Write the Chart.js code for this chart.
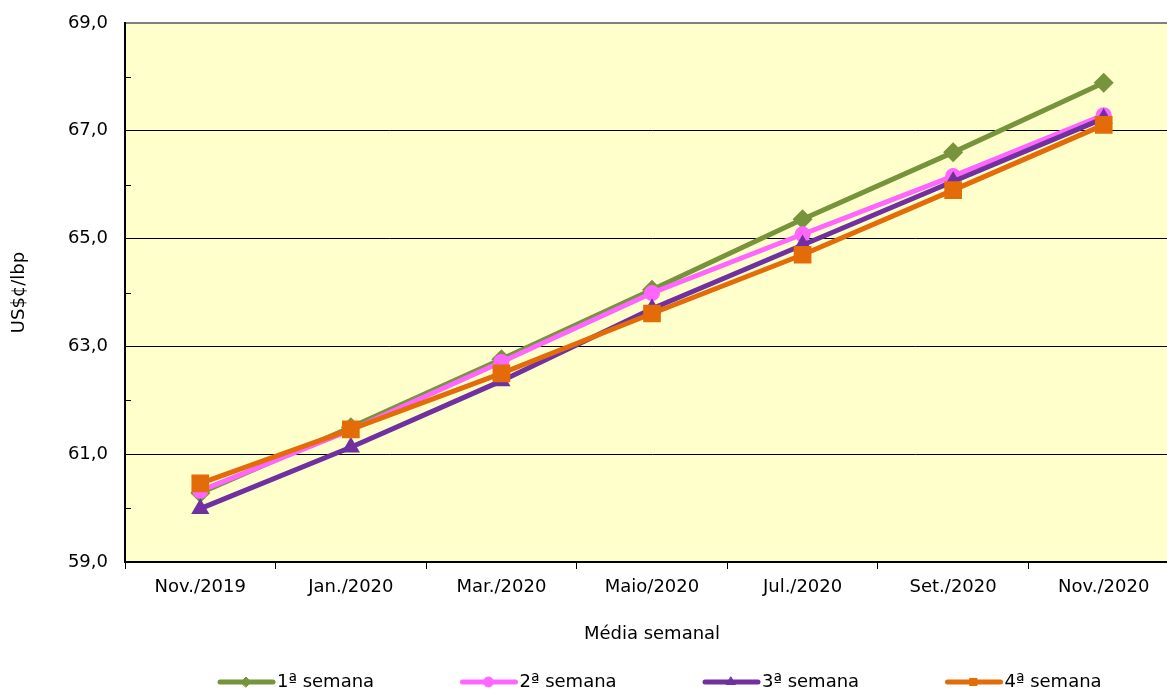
<!DOCTYPE html>
<html>
<head>
<meta charset="utf-8">
<script src="https://cdn.jsdelivr.net/npm/chart.js@4/dist/chart.umd.min.js"></script>
<style>
    html, body { margin: 0; padding: 0; overflow: hidden; background: #fff; }
    #wrap { width: 1179px; height: 691px; }
</style>
</head>
<body>
<div id="wrap"><canvas id="PrecoCanvas" width="1179" height="691"></canvas></div>
<script>
// categorias e séries (US$¢/lbp, média semanal)
const categorias = ['Nov./2019', 'Jan./2020', 'Mar./2020', 'Maio/2020', 'Jul./2020', 'Set./2020', 'Nov./2020'];
const semana1 = [60.28, 61.50, 62.76, 64.05, 65.36, 66.60, 67.89];
const semana2 = [60.32, 61.45, 62.71, 63.99, 65.08, 66.16, 67.29];
const semana3 = [59.99, 61.13, 62.36, 63.70, 64.88, 66.06, 67.23];
const semana4 = [60.46, 61.46, 62.50, 63.61, 64.70, 65.90, 67.11];
const rotulos = ['1ª semana', '2ª semana', '3ª semana', '4ª semana'];

const yMin = 59;
const yMax = 69;

const FONT = "'DejaVu Sans', Verdana, sans-serif";

const CORES = {
    verde: '#77933C',
    rosa: '#FF66FF',
    roxo: '#7030A0',
    laranja: '#E36C09'
};

const formatar = v => v.toFixed(1).replace('.', ',');

//---------------------- PLUGINS

// fundo amarelo da área do gráfico
const fundoPlugin = {
    id: 'fundo',
    beforeDraw(chart) {
        const {ctx, chartArea} = chart;
        ctx.save();
        ctx.fillStyle = '#FFFFCC';
        ctx.fillRect(chartArea.left, chartArea.top, chartArea.right - chartArea.left, chartArea.bottom - chartArea.top);
        ctx.restore();
    }
};

// marcas secundárias do eixo y, para dentro
const marcasPlugin = {
    id: 'marcas',
    beforeDatasetsDraw(chart) {
        const {ctx, chartArea, scales} = chart;
        ctx.save();
        ctx.strokeStyle = '#000';
        ctx.lineWidth = 1;
        for (let v = yMin + 1; v < yMax; v += 2) {
            const y = Math.round(scales.y.getPixelForValue(v)) + 0.5;
            ctx.beginPath();
            ctx.moveTo(chartArea.left, y);
            ctx.lineTo(chartArea.left + 6, y);
            ctx.stroke();
        }
        ctx.restore();
    }
};

// legenda com linha + marcador
const legendaPlugin = {
    id: 'legenda',
    afterDraw(chart) {
        const {ctx} = chart;
        const y = 682;
        ctx.save();
        chart.data.datasets.forEach((ds, i) => {
            const x0 = 218 + i * 242.5;
            ctx.strokeStyle = ds.borderColor;
            ctx.lineWidth = 5;
            ctx.lineCap = 'round';
            ctx.beginPath();
            ctx.moveTo(x0 + 2, y);
            ctx.lineTo(x0 + 55, y);
            ctx.stroke();
            ctx.fillStyle = ds.borderColor;
            ctx.strokeStyle = ds.borderColor;
            ctx.lineWidth = 1;
            if (Chart.helpers && Chart.helpers.drawPoint) {
                Chart.helpers.drawPoint(ctx, {pointStyle: ds.pointStyle, radius: 5, rotation: 0, borderWidth: 1}, x0 + 28, y);
            }
            ctx.fillStyle = '#000';
            ctx.font = `18px ${FONT}`;
            ctx.textBaseline = 'middle';
            ctx.textAlign = 'left';
            ctx.fillText(ds.label, x0 + 59, y);
        });
        ctx.restore();
    }
};

//---------------------- GRÁFICO

function serie(label, dados, cor, estilo, raio, ordem) {
    return {
        label: label,
        data: dados,
        borderColor: cor,
        backgroundColor: cor,
        borderWidth: 5,
        pointStyle: estilo,
        pointRadius: raio,
        pointBorderWidth: 0,
        pointBackgroundColor: cor,
        tension: 0,
        order: ordem
    };
}

const data = {
    labels: categorias,
    datasets: [
        serie(rotulos[0], semana1, CORES.verde, 'rectRot', 10, 4),
        serie(rotulos[1], semana2, CORES.rosa, 'circle', 8, 3),
        serie(rotulos[2], semana3, CORES.roxo, 'triangle', 10.5, 2),
        serie(rotulos[3], semana4, CORES.laranja, 'rect', 12.5, 1)
    ]
};

const myChartPreco = new Chart(document.getElementById('PrecoCanvas').getContext('2d'), {
    type: 'line',
    data: data,
    plugins: [fundoPlugin, marcasPlugin, legendaPlugin],
    options: {
        responsive: false,
        animation: false,
        devicePixelRatio: 1,
        events: [],
        layout: {
            autoPadding: false,
            padding: {top: 23, left: 0, right: 0, bottom: 40}
        },
        plugins: {
            legend: {display: false},
            tooltip: {enabled: false},
            title: {display: false}
        },
        scales: {
            x: {
                offset: true,
                grid: {
                    offset: true,
                    drawOnChartArea: false,
                    drawTicks: true,
                    tickLength: 7,
                    color: '#000',
                    lineWidth: 1
                },
                border: {color: '#000', width: 2},
                ticks: {
                    color: '#000',
                    padding: 8,
                    maxRotation: 0,
                    autoSkip: false,
                    font: {family: FONT, size: 18}
                },
                title: {
                    display: true,
                    text: 'Média semanal',
                    color: '#000',
                    font: {family: FONT, size: 18},
                    padding: {top: 4, bottom: 6}
                },
                afterFit: scale => {
                    scale.height = 89;
                    scale.paddingLeft = 0;
                    scale.paddingRight = 0;
                }
            },
            y: {
                min: yMin,
                max: yMax,
                grid: {
                    drawTicks: false,
                    color: c => {
                        const v = c.tick ? c.tick.value : 0;
                        if (v === yMax) return '#808080';
                        return (v - yMin) % 2 === 0 ? '#000' : 'rgba(0,0,0,0)';
                    },
                    lineWidth: c => (c.tick && c.tick.value === yMax ? 2 : 1)
                },
                border: {color: '#000', width: 2},
                ticks: {
                    stepSize: 1,
                    color: '#000',
                    padding: 17,
                    font: {family: FONT, size: 18},
                    callback: v => ((v - yMin) % 2 === 0 ? formatar(v) : '')
                },
                title: {
                    display: true,
                    text: 'US$¢/lbp',
                    color: '#000',
                    font: {family: FONT, size: 18},
                    padding: {top: 9, bottom: 0}
                },
                afterFit: scale => {
                    scale.width = 125;
                    scale.paddingTop = 0;
                    scale.paddingBottom = 0;
                }
            }
        }
    }
});
</script>
</body>
</html>
